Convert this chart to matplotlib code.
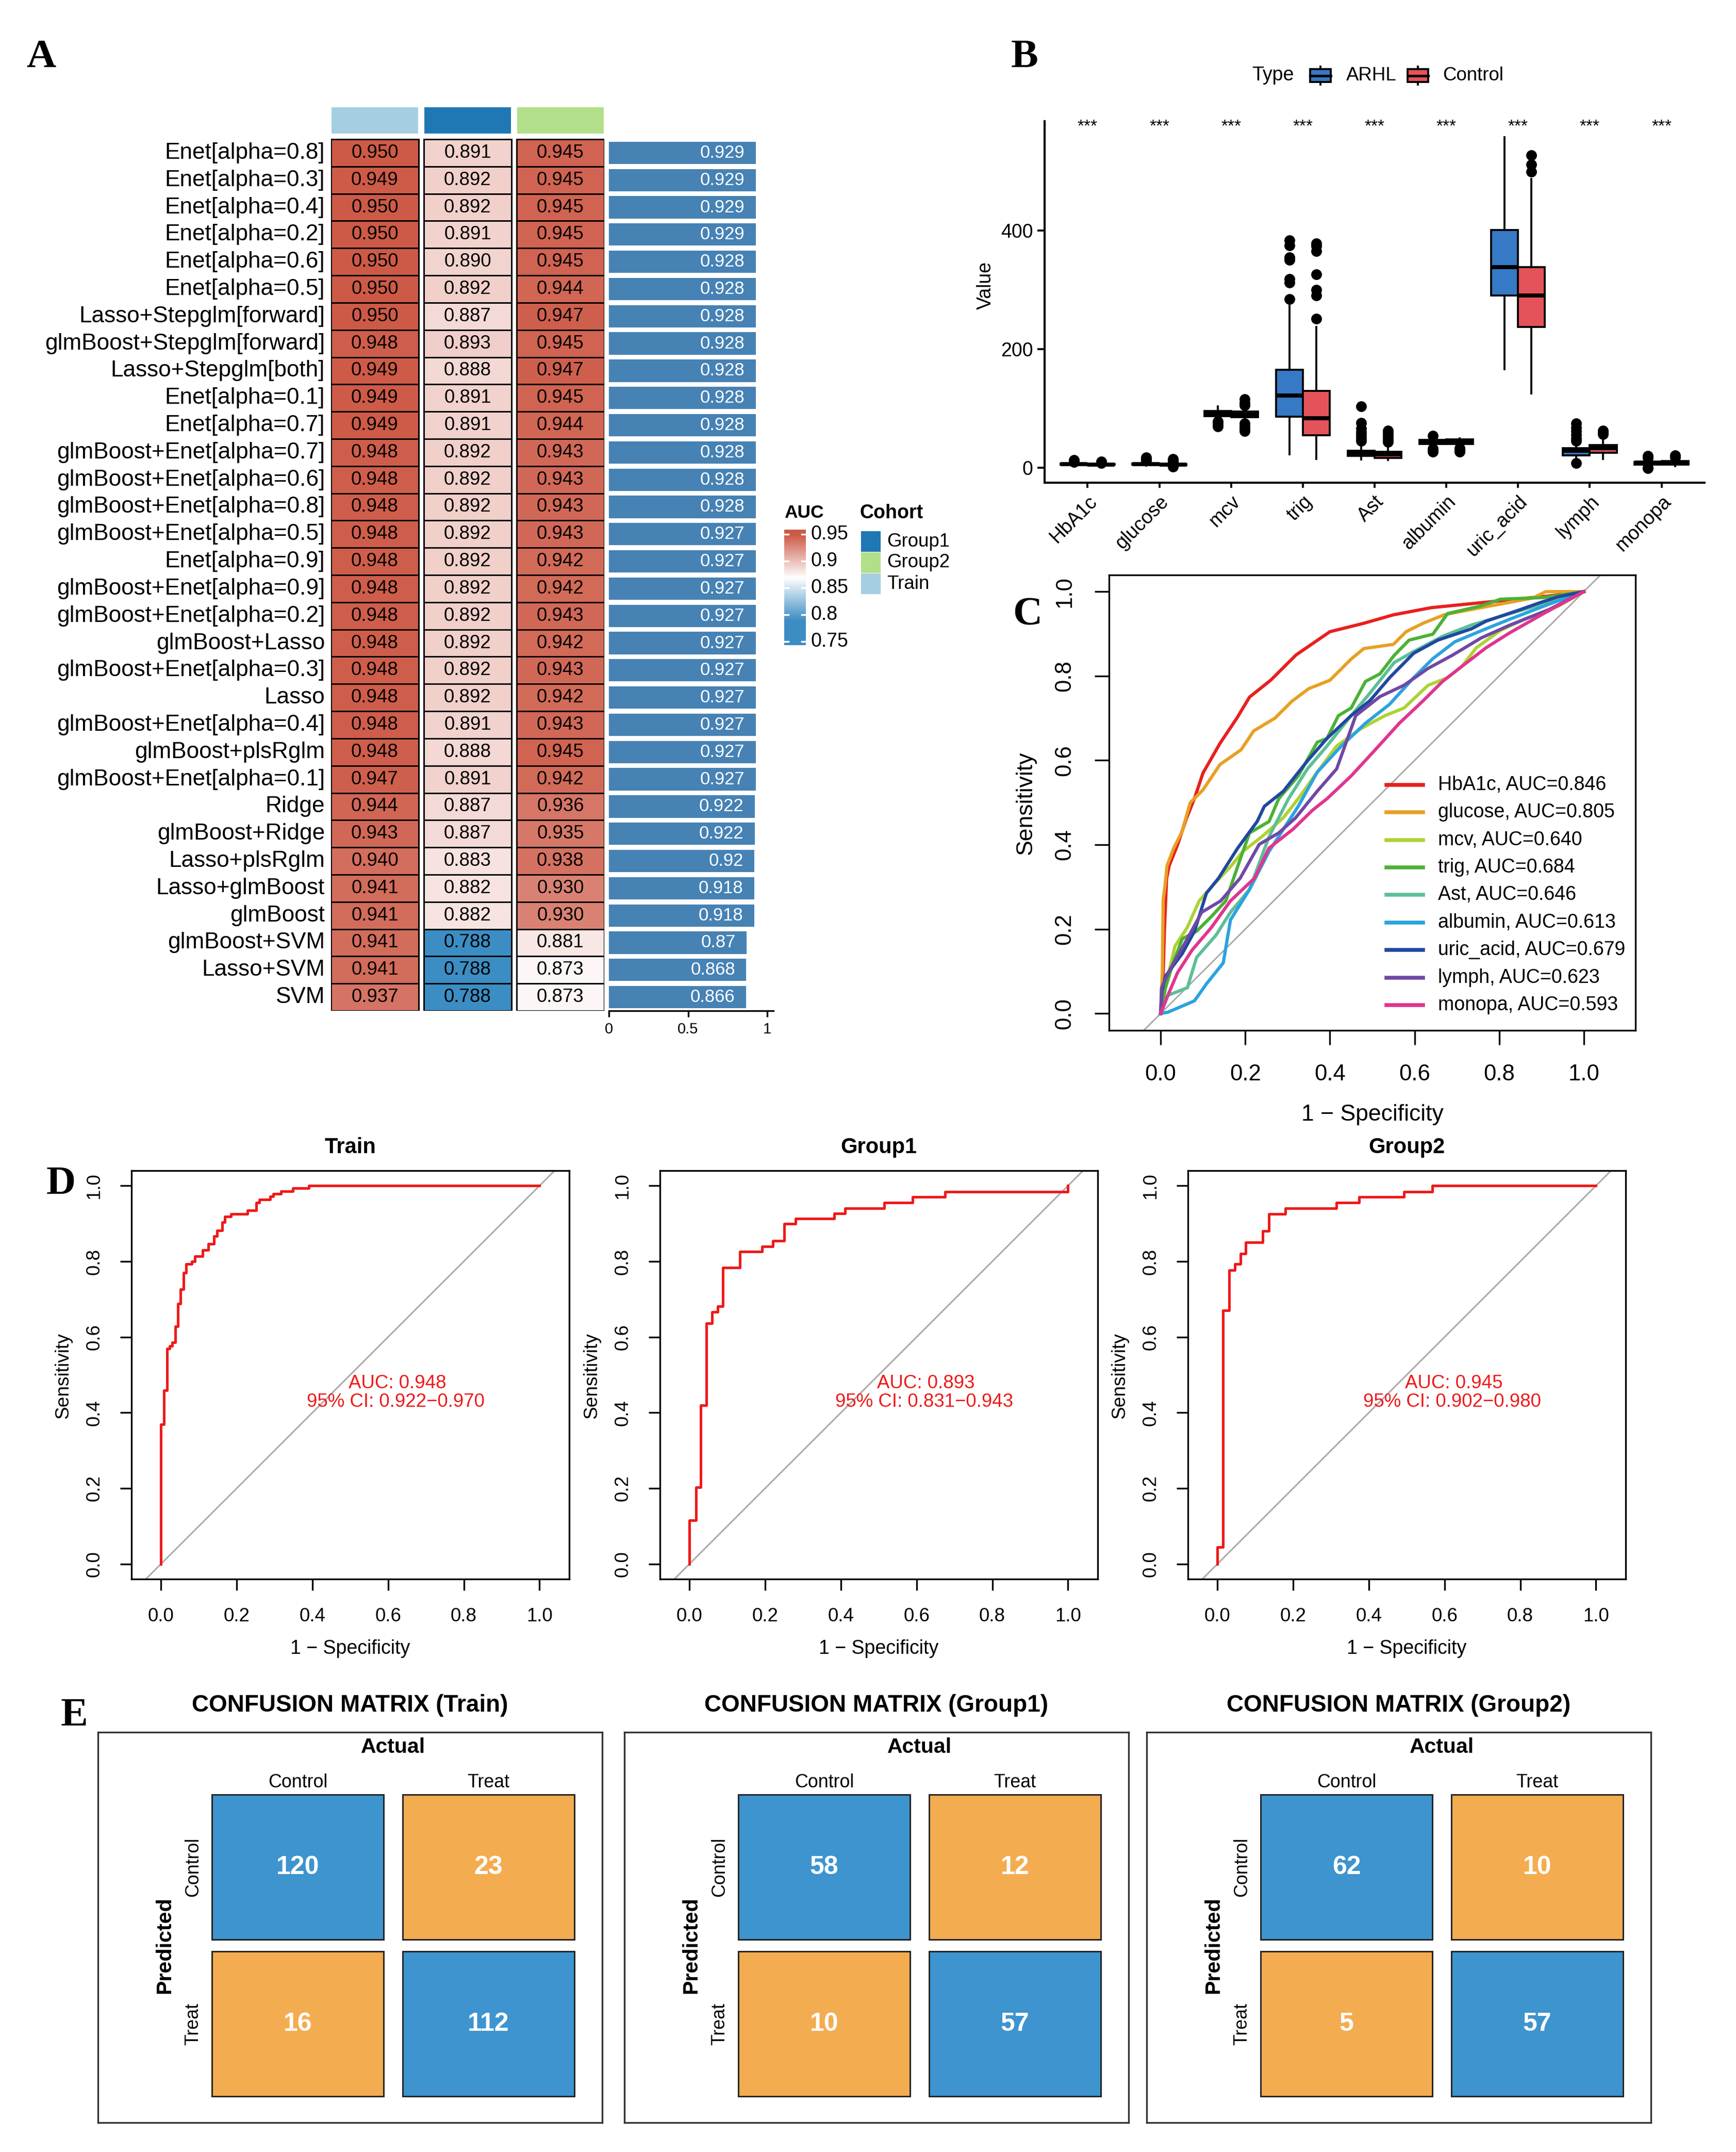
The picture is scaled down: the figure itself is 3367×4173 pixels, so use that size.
import numpy as np
import matplotlib
matplotlib.use("Agg")
import matplotlib.pyplot as plt
from matplotlib.patches import Rectangle
from matplotlib.colors import LinearSegmentedColormap, Normalize

plt.rcParams['font.family'] = ['Liberation Sans', 'DejaVu Sans']

W, H, DPI = 3367, 4173, 300

# ---------------- panel A: AUC heatmap ----------------
models = ['Enet[alpha=0.8]', 'Enet[alpha=0.3]', 'Enet[alpha=0.4]', 'Enet[alpha=0.2]',
          'Enet[alpha=0.6]', 'Enet[alpha=0.5]', 'Lasso+Stepglm[forward]',
          'glmBoost+Stepglm[forward]', 'Lasso+Stepglm[both]', 'Enet[alpha=0.1]',
          'Enet[alpha=0.7]', 'glmBoost+Enet[alpha=0.7]', 'glmBoost+Enet[alpha=0.6]',
          'glmBoost+Enet[alpha=0.8]', 'glmBoost+Enet[alpha=0.5]', 'Enet[alpha=0.9]',
          'glmBoost+Enet[alpha=0.9]', 'glmBoost+Enet[alpha=0.2]', 'glmBoost+Lasso',
          'glmBoost+Enet[alpha=0.3]', 'Lasso', 'glmBoost+Enet[alpha=0.4]',
          'glmBoost+plsRglm', 'glmBoost+Enet[alpha=0.1]', 'Ridge', 'glmBoost+Ridge',
          'Lasso+plsRglm', 'Lasso+glmBoost', 'glmBoost', 'glmBoost+SVM', 'Lasso+SVM', 'SVM']
auc_train = [0.950, 0.949, 0.950, 0.950, 0.950, 0.950, 0.950, 0.948, 0.949, 0.949, 0.949,
             0.948, 0.948, 0.948, 0.948, 0.948, 0.948, 0.948, 0.948, 0.948, 0.948, 0.948,
             0.948, 0.947, 0.944, 0.943, 0.940, 0.941, 0.941, 0.941, 0.941, 0.937]
auc_group1 = [0.891, 0.892, 0.892, 0.891, 0.890, 0.892, 0.887, 0.893, 0.888, 0.891, 0.891,
              0.892, 0.892, 0.892, 0.892, 0.892, 0.892, 0.892, 0.892, 0.892, 0.892, 0.891,
              0.888, 0.891, 0.887, 0.887, 0.883, 0.882, 0.882, 0.788, 0.788, 0.788]
auc_group2 = [0.945, 0.945, 0.945, 0.945, 0.945, 0.944, 0.947, 0.945, 0.947, 0.945, 0.944,
              0.943, 0.943, 0.943, 0.943, 0.942, 0.942, 0.943, 0.942, 0.943, 0.942, 0.943,
              0.945, 0.942, 0.936, 0.935, 0.938, 0.930, 0.930, 0.881, 0.873, 0.873]
auc_mean = [0.929, 0.929, 0.929, 0.929, 0.928, 0.928, 0.928, 0.928, 0.928, 0.928, 0.928,
            0.928, 0.928, 0.928, 0.927, 0.927, 0.927, 0.927, 0.927, 0.927, 0.927, 0.927,
            0.927, 0.927, 0.922, 0.922, 0.92, 0.918, 0.918, 0.87, 0.868, 0.866]
cohorts = ['Train', 'Group1', 'Group2']
cohort_colors = {'Train': '#A6CEE3', 'Group1': '#1F78B4', 'Group2': '#B2DF8A'}
auc_legend_breaks = [0.75, 0.8, 0.85, 0.9, 0.95]

# ---------------- panel B: boxplots ----------------
features = ['HbA1c', 'glucose', 'mcv', 'trig', 'Ast', 'albumin', 'uric_acid', 'lymph', 'monopa']
signif = ['***'] * 9
arhl_q1 = [5.5, 5.2, 87, 86, 20, 40, 290, 21, 5]
arhl_med = [6.0, 6.0, 91, 122, 25, 43, 338, 29, 8.5]
arhl_q3 = [6.8, 7.5, 96, 165, 29, 47, 401, 33.5, 10]
arhl_lo = [4.5, 4.0, 80, 23, 14, 35, 166, 12, 2]
arhl_hi = [8.5, 10.5, 104, 278, 42, 52, 557, 40, 15]
arhl_out = [[9.5, 10.5, 12, 13], [12, 14, 16, 18], [70, 73, 76, 78],
            [284, 312, 318, 350, 355, 375, 383], [45, 50, 55, 60, 66, 76, 104],
            [54, 32, 29, 27], [], [45, 50, 56, 62, 68, 75, 8], [17, 20, -1, 0]]
ctrl_q1 = [5.2, 4.8, 85, 55, 17, 40, 237, 25, 5.5]
ctrl_med = [5.6, 5.3, 90, 84, 23, 44.5, 290, 33.5, 8.5]
ctrl_q3 = [6.1, 6.0, 94.5, 130, 27, 48, 338, 38, 11.6]
ctrl_lo = [4.5, 4.0, 79, 15, 13, 36, 125, 15, 3]
ctrl_hi = [7.0, 7.8, 101, 237, 40, 50, 487, 52, 16]
ctrl_out = [[8, 9, 10, 11], [9, 11, 13, 15, 2], [105, 110, 116, 62, 66, 70, 75],
            [251, 290, 300, 326, 365, 374, 378], [44, 48, 52, 56, 60, 63],
            [33, 30, 27], [499, 511, 527], [57, 60, 63], [18, 21]]
type_names = ['ARHL', 'Control']
type_colors = ['#3679C4', '#E5535A']

# ---------------- panel C: single-feature ROC ----------------
hba1c_fpr = [0, 0.005, 0.009, 0.014, 0.02, 0.04, 0.06, 0.08, 0.10, 0.14, 0.18, 0.21, 0.26,
             0.32, 0.40, 0.48, 0.55, 0.64, 0.74, 0.84, 0.92, 1.0]
hba1c_tpr = [0, 0.06, 0.20, 0.32, 0.35, 0.40, 0.46, 0.51, 0.57, 0.64, 0.70, 0.75, 0.79,
             0.85, 0.905, 0.925, 0.945, 0.962, 0.972, 0.982, 0.99, 1.0]
glucose_fpr = [0, 0.004, 0.006, 0.01, 0.015, 0.03, 0.05, 0.07, 0.10, 0.14, 0.19, 0.22, 0.27,
               0.31, 0.35, 0.40, 0.45, 0.48, 0.55, 0.58, 0.62, 0.67, 0.72, 0.80, 0.88, 0.91, 1.0]
glucose_tpr = [0, 0.10, 0.27, 0.30, 0.35, 0.39, 0.43, 0.50, 0.53, 0.59, 0.625, 0.67, 0.70,
               0.74, 0.77, 0.79, 0.84, 0.865, 0.875, 0.905, 0.925, 0.945, 0.955, 0.97, 0.985, 1.0, 1.0]
mcv_fpr = [0, 0.017, 0.034, 0.063, 0.091, 0.131, 0.165, 0.194, 0.239, 0.29, 0.325, 0.37,
           0.416, 0.473, 0.53, 0.575, 0.632, 0.678, 0.712, 0.746, 0.803, 0.86, 0.94, 1.0]
mcv_tpr = [0, 0.088, 0.16, 0.204, 0.267, 0.312, 0.348, 0.384, 0.419, 0.464, 0.509, 0.572,
           0.634, 0.675, 0.706, 0.724, 0.778, 0.796, 0.823, 0.867, 0.908, 0.935, 0.966, 1.0]
trig_fpr = [0, 0.011, 0.028, 0.051, 0.085, 0.12, 0.154, 0.188, 0.21, 0.256, 0.279, 0.325,
            0.37, 0.393, 0.42, 0.45, 0.484, 0.518, 0.552, 0.587, 0.643, 0.678, 0.757, 0.803,
            0.905, 1.0]
trig_tpr = [0, 0.06, 0.115, 0.177, 0.195, 0.23, 0.267, 0.366, 0.428, 0.455, 0.509, 0.563,
            0.643, 0.652, 0.706, 0.724, 0.787, 0.805, 0.849, 0.885, 0.899, 0.948, 0.966, 0.982,
            0.986, 1.0]
ast_fpr = [0, 0.017, 0.063, 0.085, 0.131, 0.165, 0.21, 0.256, 0.302, 0.347, 0.393, 0.45,
           0.495, 0.552, 0.598, 0.666, 0.735, 0.826, 0.917, 1.0]
ast_tpr = [0, 0.043, 0.061, 0.133, 0.186, 0.24, 0.294, 0.419, 0.509, 0.58, 0.634, 0.706,
           0.76, 0.832, 0.858, 0.894, 0.921, 0.948, 0.975, 1.0]
albumin_fpr = [0, 0.017, 0.08, 0.108, 0.148, 0.165, 0.21, 0.256, 0.325, 0.37, 0.427, 0.484,
               0.541, 0.598, 0.643, 0.695, 0.769, 0.826, 0.917, 1.0]
albumin_tpr = [0, 0.003, 0.03, 0.07, 0.12, 0.222, 0.294, 0.384, 0.491, 0.572, 0.634, 0.688,
               0.733, 0.796, 0.841, 0.881, 0.912, 0.935, 0.97, 1.0]
uric_fpr = [0, 0.003, 0.011, 0.051, 0.08, 0.108, 0.137, 0.182, 0.228, 0.245, 0.29, 0.347,
            0.393, 0.45, 0.495, 0.541, 0.598, 0.655, 0.735, 0.769, 0.849, 0.894, 0.94, 1.0]
uric_tpr = [0, 0.052, 0.088, 0.142, 0.195, 0.285, 0.321, 0.392, 0.455, 0.491, 0.527, 0.599,
            0.652, 0.706, 0.742, 0.796, 0.854, 0.885, 0.912, 0.93, 0.957, 0.973, 0.988, 1.0]
lymph_fpr = [0, 0.002, 0.023, 0.063, 0.097, 0.142, 0.188, 0.233, 0.279, 0.319, 0.37, 0.416,
             0.461, 0.518, 0.575, 0.632, 0.689, 0.757, 0.826, 0.917, 1.0]
lymph_tpr = [0, 0.061, 0.106, 0.177, 0.24, 0.267, 0.321, 0.401, 0.428, 0.464, 0.527, 0.58,
             0.706, 0.751, 0.778, 0.818, 0.849, 0.89, 0.921, 0.957, 1.0]
monopa_fpr = [0, 0.017, 0.04, 0.074, 0.12, 0.165, 0.222, 0.256, 0.313, 0.359, 0.393, 0.45,
              0.507, 0.564, 0.621, 0.666, 0.712, 0.769, 0.826, 0.905, 1.0]
monopa_tpr = [0, 0.043, 0.097, 0.15, 0.204, 0.267, 0.321, 0.392, 0.437, 0.482, 0.509, 0.563,
              0.625, 0.688, 0.742, 0.787, 0.823, 0.867, 0.903, 0.948, 1.0]
feature_auc = [0.846, 0.805, 0.640, 0.684, 0.646, 0.613, 0.679, 0.623, 0.593]
feature_colors = ['#E8201E', '#E8A023', '#AED234', '#4CB135', '#5CBF98', '#2BA3DF',
                  '#2148A0', '#7048A5', '#E0358F']

# ---------------- panel D: model ROC per cohort ----------------
train_fpr = [0, 0, 0.0073, 0.0156, 0.023, 0.030, 0.0375, 0.045, 0.052, 0.059, 0.067, 0.081,
             0.089, 0.11, 0.125, 0.14, 0.148, 0.162, 0.169, 0.185, 0.228, 0.252, 0.26, 0.289,
             0.297, 0.317, 0.348, 0.391, 1.0]
train_tpr = [0, 0.369, 0.459, 0.570, 0.577, 0.586, 0.628, 0.688, 0.726, 0.770, 0.793, 0.80,
             0.814, 0.83, 0.846, 0.867, 0.882, 0.904, 0.918, 0.926, 0.935, 0.956, 0.963, 0.972,
             0.979, 0.986, 0.993, 1.0, 1.0]
group1_fpr = [0, 0, 0.017, 0.030, 0.045, 0.059, 0.074, 0.088, 0.133, 0.192, 0.22, 0.25, 0.28,
              0.383, 0.411, 0.515, 0.59, 0.676, 1.0]
group1_tpr = [0, 0.116, 0.203, 0.42, 0.637, 0.667, 0.681, 0.783, 0.826, 0.84, 0.855, 0.9,
              0.913, 0.927, 0.941, 0.956, 0.97, 0.984, 1.0]
group2_fpr = [0, 0, 0.015, 0.031, 0.046, 0.061, 0.075, 0.12, 0.136, 0.18, 0.314, 0.374,
              0.493, 0.568, 1.0]
group2_tpr = [0, 0.045, 0.671, 0.777, 0.793, 0.821, 0.851, 0.881, 0.926, 0.94, 0.955, 0.97,
              0.984, 1.0, 1.0]
cohort_auc = [0.948, 0.893, 0.945]
cohort_ci = [(0.922, 0.970), (0.831, 0.943), (0.902, 0.980)]

# ---------------- panel E: confusion matrices ----------------
cm_train = [[120, 23], [16, 112]]
cm_group1 = [[58, 12], [10, 57]]
cm_group2 = [[62, 10], [5, 57]]
cm_classes = ['Control', 'Treat']

fig = plt.figure(figsize=(W / DPI, H / DPI), dpi=DPI)


def add_ax(x0, y0, x1, y1):
    # axes placed by pixel box (top-left origin)
    return fig.add_axes([x0 / W, 1 - y1 / H, (x1 - x0) / W, (y1 - y0) / H])


# ======== A ========
vals_all = auc_train + auc_group1 + auc_group2
vmin, vmax = min(vals_all), max(vals_all)
cmap = LinearSegmentedColormap.from_list('auc', ['#3C8DC3', '#FFFFFF', '#CD5A47'])
norm = Normalize(vmin, vmax)

n = len(models)
cw = 170 / 180
ann_top, ann_bot = -(270 - 207) / 52.8, -(270 - 259.6) / 52.8
axA = add_ax(642, 207, 1172, 1960)
axA.set_xlim(0, 2 + cw)
axA.set_ylim(n, ann_top)
axA.axis('off')
for j, (coh, vals) in enumerate(zip(cohorts, [auc_train, auc_group1, auc_group2])):
    axA.add_patch(Rectangle((j, ann_top), cw, ann_bot - ann_top,
                            facecolor=cohort_colors[coh], edgecolor='white', lw=0.5))
    for i, v in enumerate(vals):
        axA.add_patch(Rectangle((j, i), cw, 1, facecolor=cmap(norm(v)),
                                edgecolor='black', lw=0.7))
        axA.text(j + cw / 2, i + 0.5, f'{v:.3f}', ha='center', va='center', fontsize=8.8)
for i, m in enumerate(models):
    axA.text(-12 / 180, i + 0.5, m, ha='right', va='center', fontsize=10.6)

axBar = add_ax(1181, 270, 1500, 1960)
axBar.barh(np.arange(n) + 0.5, auc_mean, height=0.82, color='#4682B4')
for i, v in enumerate(auc_mean):
    axBar.text(v - 0.07, i + 0.5, f'{v:g}', ha='right', va='center', color='white', fontsize=8.3)
axBar.set_ylim(n, 0)
axBar.set_xlim(0, 1.039)
for s in ['top', 'right', 'left']:
    axBar.spines[s].set_visible(False)
axBar.spines['bottom'].set_linewidth(0.8)
axBar.set_yticks([])
axBar.set_xticks([0, 0.5, 1])
axBar.set_xticklabels(['0', '0.5', '1'])
axBar.tick_params(axis='x', length=2.9, width=0.8, labelsize=7, pad=2.4)

# AUC colour legend
axCB = add_ax(1521, 1027, 1563, 1251)
lo, hi = 0.743, 0.959
grad = np.linspace(lo, hi, 300).reshape(-1, 1)
axCB.imshow(grad, cmap=cmap, norm=norm, aspect='auto', origin='lower', extent=[0, 1, lo, hi])
axCB.set_xlim(0, 1)
axCB.set_ylim(lo, hi)
axCB.axis('off')
for b in auc_legend_breaks:
    axCB.plot([0, 0.2], [b, b], color='white', lw=0.8)
    axCB.plot([0.8, 1], [b, b], color='white', lw=0.8)
    axCB.text(1.22, b, f'{b:g}', ha='left', va='center', fontsize=9,
              transform=axCB.get_yaxis_transform())

# ======== B ========
axB = add_ax(2026, 235, 3306, 936)
pos = np.arange(1, len(features) + 1)
groups = [(arhl_q1, arhl_med, arhl_q3, arhl_lo, arhl_hi, arhl_out),
          (ctrl_q1, ctrl_med, ctrl_q3, ctrl_lo, ctrl_hi, ctrl_out)]
for g, (q1, med, q3, lo_w, hi_w, out) in enumerate(groups):
    stats = [dict(q1=q1[k], med=med[k], q3=q3[k], whislo=lo_w[k], whishi=hi_w[k], fliers=out[k])
             for k in range(len(features))]
    axB.bxp(stats, positions=pos + (g - 0.5) * 0.375, widths=0.375, patch_artist=True,
            showcaps=False,
            boxprops=dict(facecolor=type_colors[g], edgecolor='black', linewidth=0.9),
            medianprops=dict(color='black', linewidth=1.9),
            whiskerprops=dict(color='black', linewidth=0.9),
            flierprops=dict(marker='o', markerfacecolor='black', markeredgecolor='black',
                            markersize=4))
for k, s in enumerate(signif):
    axB.text(pos[k], 575, s, ha='center', va='center', fontsize=8)
axB.set_xlim(0.4, 9.6)
axB.set_ylim(-25, 584)
axB.set_xticks(pos)
axB.set_xticklabels(features, rotation=45, ha='right', rotation_mode='anchor', fontsize=9)
axB.set_yticks([0, 200, 400])
axB.tick_params(axis='y', labelsize=9, length=3.4, width=0.9, pad=2)
axB.tick_params(axis='x', length=2.5, width=0.9, pad=2)
for s in ['top', 'right']:
    axB.spines[s].set_visible(False)
for s in ['left', 'bottom']:
    axB.spines[s].set_linewidth(1.0)

# ======== C ========
axC = add_ax(2151, 1114.5, 3172, 1998)
c_curves = [(hba1c_fpr, hba1c_tpr), (glucose_fpr, glucose_tpr), (mcv_fpr, mcv_tpr),
            (trig_fpr, trig_tpr), (ast_fpr, ast_tpr), (albumin_fpr, albumin_tpr),
            (uric_fpr, uric_tpr), (lymph_fpr, lymph_tpr), (monopa_fpr, monopa_tpr)]
axC.plot([-0.3, 1.3], [-0.3, 1.3], color='#A8A8A8', lw=0.7)
for (fx, fy), col in zip(c_curves, feature_colors):
    axC.plot(fx, fy, color=col, lw=1.5)
axC.set_xlim(-0.122, 1.122)
axC.set_ylim(-0.04, 1.04)
ticks = [0, 0.2, 0.4, 0.6, 0.8, 1.0]
axC.set_xticks(ticks)
axC.set_yticks(ticks)
axC.set_xticklabels([f'{t:.1f}' for t in ticks])
axC.set_yticklabels([f'{t:.1f}' for t in ticks], rotation=90, va='center')
axC.tick_params(length=6.7, width=0.8, labelsize=10.5, pad=9)
for s in axC.spines.values():
    s.set_linewidth(0.8)
for k, (name, a, col) in enumerate(zip(features, feature_auc, feature_colors)):
    yk = 0.539 - k * 53.4 / 883.5
    axC.plot([0.527, 0.596], [yk, yk], color=col, lw=1.8, transform=axC.transAxes)
    axC.text(0.625, yk, f'{name}, AUC={a:.3f}', ha='left', va='center', fontsize=9,
             transform=axC.transAxes)

# ======== D ========
d_curves = [(train_fpr, train_tpr), (group1_fpr, group1_tpr), (group2_fpr, group2_tpr)]
d_left = [255, 1280, 2304]
d_titles = ['Train', 'Group1', 'Group2']
for x0, (fx, fy), a, ci in zip(d_left, d_curves, cohort_auc, cohort_ci):
    ax = add_ax(x0, 2270, x0 + 848.6, 3062)
    ax.plot([-0.3, 1.3], [-0.3, 1.3], color='#A8A8A8', lw=0.7)
    ax.plot(fx, fy, color='#EE1A1A', lw=1.2, drawstyle='steps-post')
    ax.set_xlim(-0.078, 1.078)
    ax.set_ylim(-0.04, 1.04)
    ax.set_xticks(ticks)
    ax.set_yticks(ticks)
    ax.set_xticklabels([f'{t:.1f}' for t in ticks])
    ax.set_yticklabels([f'{t:.1f}' for t in ticks], rotation=90, va='center')
    ax.tick_params(length=5.3, width=0.8, labelsize=8.8, pad=7.8)
    for s in ax.spines.values():
        s.set_linewidth(0.8)
    ax.text(0.625, 0.478, f'AUC: {a:.3f}', color='#EE1A1A', ha='center', va='center', fontsize=8.8)
    ax.text(0.62, 0.428, f'95% CI: {ci[0]:.3f}\u2212{ci[1]:.3f}', color='#EE1A1A',
            ha='center', va='center', fontsize=8.8)

# ======== E ========
e_left = [190, 1211, 2224]
e_titles = ['Train', 'Group1', 'Group2']
for x0, cm, t in zip(e_left, [cm_train, cm_group1, cm_group2], e_titles):
    frame = add_ax(x0, 3359, x0 + 978, 4116)
    frame.set_xticks([])
    frame.set_yticks([])
    for s in frame.spines.values():
        s.set_linewidth(0.8)
        s.set_color('#333333')
    frame.set_title(f'CONFUSION MATRIX ({t})', fontsize=11, fontweight='bold', pad=9.5)
    ax = add_ax(x0 + 202.5, 3468.5, x0 + 942.5, 4076.5)
    ax.set_xlim(0, 2)
    ax.set_ylim(2, 0)
    ax.axis('off')
    gy = 11.5 / 304
    for i in range(2):
        for j in range(2):
            fc = '#3D94CF' if i == j else '#F4AC50'
            ax.add_patch(Rectangle((j + 0.05, i + gy), 0.9, 1 - 2 * gy, facecolor=fc,
                                   edgecolor='#222222', lw=0.7))
            ax.text(j + 0.5, i + 0.5, str(cm[i][j]), ha='center', va='center',
                    color='white', fontsize=12, fontweight='bold')
    for j, c in enumerate(cm_classes):
        ax.text(j + 0.5, -0.04, c, ha='center', va='center', fontsize=8.6)
        ax.text(-0.047, j + 0.5, c, ha='center', va='center', fontsize=8.6, rotation=90)
    ax.text(1.0, -0.265, 'Actual', ha='center', va='center', fontsize=9.8, fontweight='bold')
    ax.text(-0.199, 1.0, 'Predicted', ha='center', va='center', fontsize=9.9,
            fontweight='bold', rotation=90)

# ======== overlay: panel letters, axis titles, legends ========
ov = fig.add_axes([0, 0, 1, 1])
ov.set_xlim(0, W)
ov.set_ylim(H, 0)
ov.axis('off')

letter_kw = dict(fontsize=19, fontweight='bold', family=['Liberation Serif', 'DejaVu Serif'],
                 ha='left', va='baseline')
for s, (x, y) in zip('ABCDE', [(51, 130), (1961, 130), (1964, 1212), (90, 2315), (118, 3346)]):
    ov.text(x, y, s, **letter_kw)

# A legends
ov.text(1521, 995, 'AUC', fontsize=8.5, fontweight='bold', ha='left', va='center')
ov.text(1668, 995, 'Cohort', fontsize=9, fontweight='bold', ha='left', va='center')
for k, coh in enumerate(sorted(cohorts)):
    y0 = 1030 + k * 41
    ov.add_patch(Rectangle((1670, y0), 38, 40, facecolor=cohort_colors[coh], edgecolor='none'))
    ov.text(1720, y0 + 20, coh, fontsize=8.8, ha='left', va='center')

# B legend and label
ov.text(2428, 146, 'Type', fontsize=9, ha='left', va='center')
for k, (nm, col) in enumerate(zip(type_names, type_colors)):
    bx = [2541, 2730][k]
    ov.add_patch(Rectangle((bx, 134), 40, 25, facecolor=col, edgecolor='black', lw=0.9))
    ov.plot([bx + 20, bx + 20], [129, 134], color='black', lw=0.9)
    ov.plot([bx + 20, bx + 20], [159, 164], color='black', lw=0.9)
    ov.plot([bx, bx + 40], [146.5, 146.5], color='black', lw=1.2)
    ov.text([2611, 2798][k], 146, nm, fontsize=8.8, ha='left', va='center')
ov.text(1912, 554, 'Value', rotation=90, fontsize=9, ha='center', va='center')

# C labels
ov.text(1989, 1557, 'Sensitivity', rotation=90, fontsize=10.7, ha='center', va='center')
ov.text(2662, 2162, '1 \u2212 Specificity', fontsize=10.7, ha='center', va='center')

# D labels
for x0, t in zip(d_left, d_titles):
    cx = x0 + 424.3
    ov.text(cx, 2225, t, fontsize=10, fontweight='bold', ha='center', va='center')
    ov.text(x0 - 132.5, 2668, 'Sensitivity', rotation=90, fontsize=8.9, ha='center', va='center')
    ov.text(cx, 3197, '1 \u2212 Specificity', fontsize=9, ha='center', va='center')

fig.savefig('out.png', dpi=DPI)
